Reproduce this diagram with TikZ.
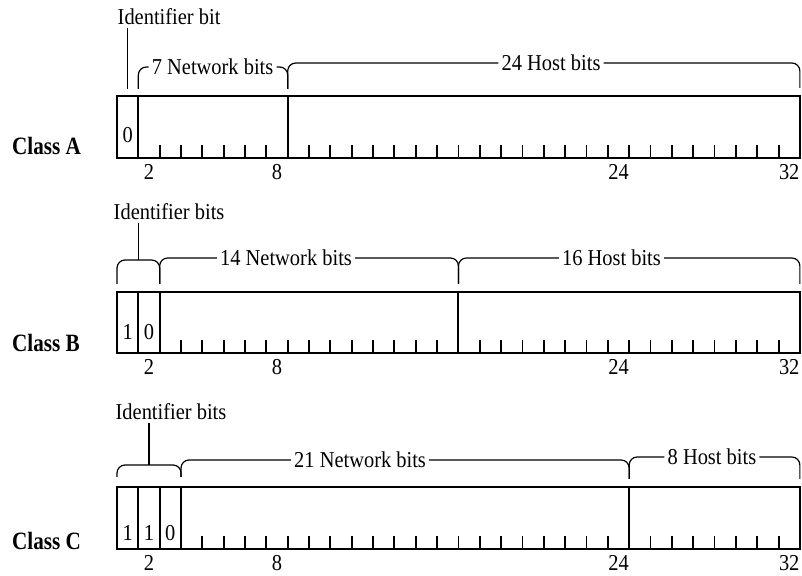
\documentclass[tikz,border=0pt]{standalone}
\usepackage{fontspec}
\setmainfont[FakeStretch=0.9]{Liberation Serif}
\newfontfamily\classfont[FakeStretch=0.85]{Liberation Serif}

\begin{document}
\begin{tikzpicture}[x=21.34bp, y=-1bp,
  every node/.style={font=\fontsize{22.8}{26}\selectfont, inner sep=3bp},
  field/.style={line width=2.1pt},
  bitline/.style={line width=2.1pt},
  tickmark/.style={line width=1.9pt},
  brace/.style={line width=1.2pt, rounded corners=8bp},
  classname/.style={font=\classfont\bfseries\fontsize{25}{28}\selectfont, anchor=base west, inner sep=0pt}]
  \useasboundingbox (-5.483,0) rectangle (32.099,576);

  % Class A
  \node[classname] (classA) at (-4.92,155) {Class A};
  \draw[field] (0,96) rectangle (32,158);
  \draw[bitline] (1,96) -- (1,158);
  \draw[bitline] (8,96) -- (8,158);
  \foreach \b in {2,...,31}
    \draw[tickmark] (\b,158) -- (\b,145);
  \node[anchor=base] (bitA0) at (0.5,143) {0};
  \foreach \n in {2,8,24,32}
    \node[anchor=base] (numA\n) at (\n-0.5,180) {\n};

  \node (idA) at (2.44,17) {Identifier bit};
  \coordinate (idAfoot) at (0.5,89);
  \draw[brace] (idA.south -| idAfoot) -- (idAfoot);
  \node (netA) at (4.48,67) {7 Network bits};
  \draw[brace] (1,89) |- (netA.west);
  \draw[brace] (netA.east) -| (8,89);
  \node (hostA) at (20.34,63) {24 Host bits};
  \draw[brace] (8,89) |- (hostA.west);
  \draw[brace] (hostA.east) -| (32,88);

  % Class B
  \node[classname] (classB) at (-4.92,352) {Class B};
  \draw[field] (0,292) rectangle (32,353);
  \draw[bitline] (1,292) -- (1,353);
  \draw[bitline] (2,292) -- (2,353);
  \draw[bitline] (16,292) -- (16,353);
  \foreach \b in {2,...,31}
    \draw[tickmark] (\b,353) -- (\b,340);
  \node[anchor=base] (bitB0) at (0.5,340) {1};
  \node[anchor=base] (bitB1) at (1.5,340) {0};
  \foreach \n in {2,8,24,32}
    \node[anchor=base] (numB\n) at (\n-0.5,375) {\n};

  \node (idB) at (2.44,212) {Identifier bits};
  \coordinate (idBtop) at (1,260);
  \draw[brace] (0,284) |- (idBtop) -| (2,284);
  \draw[brace] (idB.south -| idBtop) -- (idBtop);
  \node (netB) at (7.92,258) {14 Network bits};
  \draw[brace] (2,284) |- (netB.west);
  \draw[brace] (netB.east) -| (16,284);
  \node (hostB) at (23.17,258) {16 Host bits};
  \draw[brace] (16,284) |- (hostB.west);
  \draw[brace] (hostB.east) -| (32,284);

  % Class C
  \node[classname] (classC) at (-4.92,550) {Class C};
  \draw[field] (0,487) rectangle (32,549);
  \draw[bitline] (1,487) -- (1,549);
  \draw[bitline] (2,487) -- (2,549);
  \draw[bitline] (3,487) -- (3,549);
  \draw[bitline] (24,487) -- (24,549);
  \foreach \b in {2,...,31}
    \draw[tickmark] (\b,549) -- (\b,536);
  \node[anchor=base] (bitC0) at (0.5,541) {1};
  \node[anchor=base] (bitC1) at (1.5,541) {1};
  \node[anchor=base] (bitC2) at (2.5,541) {0};
  \foreach \n in {2,8,24,32}
    \node[anchor=base] (numC\n) at (\n-0.5,571) {\n};

  \node (idC) at (2.53,412) {Identifier bits};
  \coordinate (idCtop) at (1.5,465);
  \draw[brace] (0,477) |- (idCtop) -| (3,477);
  \draw[brace] (idC.south -| idCtop) -- (idCtop);
  \node (netC) at (11.39,460) {21 Network bits};
  \draw[brace] (3,477) |- (netC.west);
  \draw[brace] (netC.east) -| (24,479);
  \node (hostC) at (27.88,457) {8 Host bits};
  \draw[brace] (24,479) |- (hostC.west);
  \draw[brace] (hostC.east) -| (32,479);
\end{tikzpicture}
\end{document}
